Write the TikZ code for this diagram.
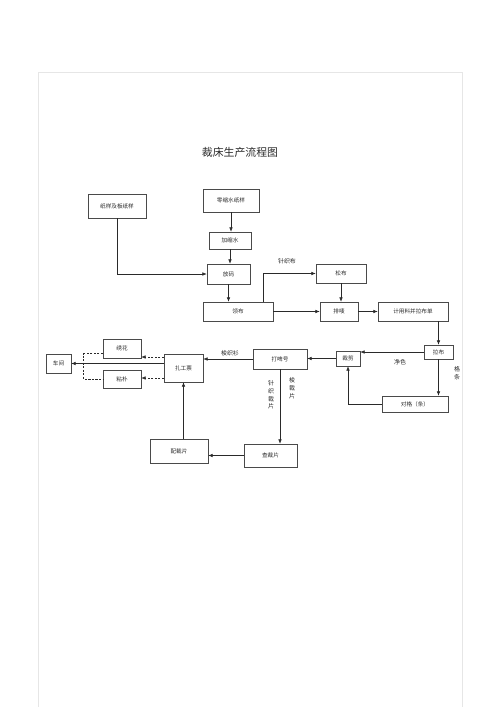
\documentclass[tikz,border=0pt]{standalone}
\usepackage{fontspec}
\setmainfont{Noto Sans CJK SC}
\usetikzlibrary{arrows.meta,calc}
\definecolor{ink}{HTML}{2A2A2A}
\definecolor{frame}{HTML}{4A4A4A}
\definecolor{sheet}{HTML}{E6E6E6}

\begin{document}
\begin{tikzpicture}[x=0.05cm,y=-0.05cm,
  box/.style={draw=frame,line width=0.7pt,inner sep=0pt,font=\fontsize{8}{9}\selectfont,text=ink},
  arr/.style={-{Latex[length=2.2mm,width=1.8mm]},line width=0.9pt,ink},
  darr/.style={-{Latex[length=2.2mm,width=1.8mm]},line width=0.9pt,ink,densely dashed},
  lbl/.style={font=\fontsize{8.5}{11}\selectfont,text=ink,align=center,inner sep=0pt}]
\useasboundingbox (0,0) rectangle (500,707);
\draw[sheet,line width=0.6pt] (38,707) -- (38,72) -- (462,72) -- (462,707);
\node[font=\fontsize{15.5}{16}\selectfont,text=ink] (title) at (240,152) {裁床生产流程图};
\foreach \x/\y/\w/\h/\t/\id in {
117/206/58/24/纸样及板纸样/zy,
231/200.5/56/23/零缩水纸样/lsz,
230/240.5/42/17/加缩水/jss,
228.5/274/43/20/放码/fm,
238/311.5/70/19/领布/lb,
341/273.5/50/19/松布/sb,
339/311.5/38/19/排唛/pm,
413/311.5/70/19/计用料并拉布单/jyl,
438.5/352/29/14/拉布/lab,
348/358.5/24/15/裁剪/cj,
280/359/54/20/打啤号/dph,
415/404/66/16/对格（条）/dg,
270.5/455.5/53/23/查裁片/czp,
179/451/58/24/配裁片/pcp,
183.5/368/39/28/扎工票/zgp,
58.5/363.5/25/19/车间/cjian,
122/348.5/38/19/绣花/xh,
122/379/38/18/粘朴/zp}
{
  \node[box,minimum width=\w*0.05cm,minimum height=\h*0.05cm] (\id) at (\x,\y) {\t};
}
% edge labels
\node[lbl] (zzb) at (287,261) {针织布};
\node[lbl] (js) at (400,362) {净色};
\node[lbl] (gt) at (457,373) {格\\条};
\node[lbl] (szs) at (230,353) {梭织衫};
\node[lbl] (zzcp) at (271,395) {针\\织\\裁\\片};
\node[lbl] (scp) at (292,388) {梭\\裁\\片};
% connectors
\foreach \a/\b in {lsz/jss,jss/fm,fm/lb}{\draw[arr] (\a.south)--(\a.south |- \b.north);}
\foreach \a/\b in {lb/pm,pm/jyl}{\draw[arr] (\a.east)--(\a.east -| \b.west);}
\foreach \a/\b in {lab/cj,cj/dph,dph/zgp,czp/pcp}{\draw[arr] (\a.west)--(\a.west -| \b.east);}
\draw[arr] (zy.south) |- (fm.west);
\draw[arr] ($(lb.north east)+(-10,0)$) |- (sb.west);
\draw[arr] (sb.south)--(sb.south |- pm.north);
\draw[arr] (lab.north |- jyl.south)--(lab.north);
\draw[arr] (lab.south)--(lab.south |- dg.north);
\draw[arr] (dg.west) -| (cj.south);
\draw[arr] (dph.south)--(dph.south |- czp.north);
\draw[arr] (zgp.south |- pcp.north)--(zgp.south);
\draw[arr] (zgp.west |- cjian.east)--(cjian.east);
\coordinate (xa) at ($(zgp.west)+(0,-11)$);
\coordinate (xb) at ($(zgp.west)+(0,10)$);
\draw[darr] (xa)--(xa -| xh.east);
\draw[darr] (xb)--(xb -| zp.east);
\draw[ink,line width=0.9pt,densely dashed] ($(xh.west)+(0,5)$) -| ($(zp.west)+(-19,0)$)--(zp.west);
\end{tikzpicture}
\end{document}
